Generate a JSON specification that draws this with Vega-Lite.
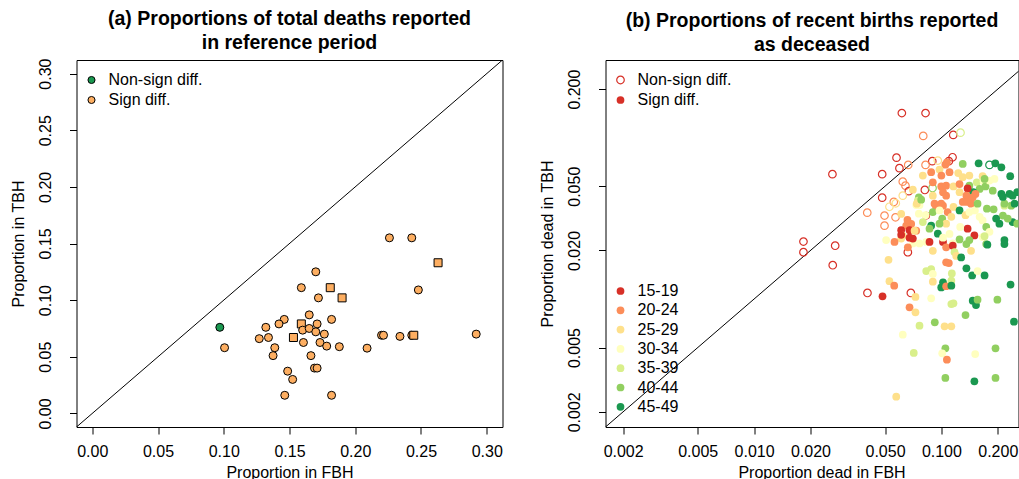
{
"$schema":"https://vega.github.io/schema/vega-lite/v6.json",
"padding":{"left":9.5,"top":8,"right":0,"bottom":0},
"bounds":"flush",
"spacing":103,
"background":"white",
"resolve":{"scale":{"color":"independent","shape":"independent"},"legend":{"color":"independent","shape":"independent"}},
"config":{
 "font":"Liberation Sans",
 "view":{"stroke":"black","strokeWidth":1},
 "axis":{"domain":false,"grid":false,"tickColor":"black","tickSize":7,"tickWidth":1,"labelFontSize":16,"labelColor":"black","titleFontSize":16,"titleFontWeight":"normal","titleColor":"black","labelFont":"Liberation Sans","titleFont":"Liberation Sans","labelPadding":9,"titlePadding":5,"labelFlush":false,"labelOverlap":false},
 "axisY":{"labelPadding":16,"titlePadding":11},
 "title":{"fontSize":19.5,"fontWeight":"bold","font":"Liberation Sans","color":"black","anchor":"middle","offset":5,"lineHeight":24},
 "legend":{"labelFont":"Liberation Sans","labelFontSize":16,"labelColor":"black","padding":0,"rowPadding":4,"labelOffset":9}
},
"hconcat":[
{
 "width":426,"height":367,
 "title":{"text":["(a) Proportions of total deaths reported","in reference period"]},
 "layer":[
  {"data":{"values":[{"fbh":-0.05,"tbh":-0.05,"fbh2":0.4,"tbh2":0.4}]},
   "mark":{"type":"rule","clip":true,"color":"black","strokeWidth":1},
   "encoding":{"x":{"field":"fbh","type":"quantitative"},"y":{"field":"tbh","type":"quantitative"},"x2":{"field":"fbh2"},"y2":{"field":"tbh2"}}},
  {"data":{"values":[
{"fbh":0.226,"tbh":0.155,"sig":"Sign diff.","type":"circle"},
{"fbh":0.243,"tbh":0.155,"sig":"Sign diff.","type":"circle"},
{"fbh":0.263,"tbh":0.133,"sig":"Sign diff.","type":"square"},
{"fbh":0.170,"tbh":0.125,"sig":"Sign diff.","type":"circle"},
{"fbh":0.159,"tbh":0.111,"sig":"Sign diff.","type":"circle"},
{"fbh":0.181,"tbh":0.111,"sig":"Sign diff.","type":"square"},
{"fbh":0.248,"tbh":0.109,"sig":"Sign diff.","type":"circle"},
{"fbh":0.172,"tbh":0.102,"sig":"Sign diff.","type":"circle"},
{"fbh":0.190,"tbh":0.102,"sig":"Sign diff.","type":"square"},
{"fbh":0.165,"tbh":0.087,"sig":"Sign diff.","type":"circle"},
{"fbh":0.146,"tbh":0.083,"sig":"Sign diff.","type":"circle"},
{"fbh":0.142,"tbh":0.079,"sig":"Sign diff.","type":"circle"},
{"fbh":0.182,"tbh":0.083,"sig":"Sign diff.","type":"circle"},
{"fbh":0.159,"tbh":0.079,"sig":"Sign diff.","type":"square"},
{"fbh":0.097,"tbh":0.076,"sig":"Non-sign diff.","type":"circle"},
{"fbh":0.132,"tbh":0.076,"sig":"Sign diff.","type":"circle"},
{"fbh":0.171,"tbh":0.079,"sig":"Sign diff.","type":"circle"},
{"fbh":0.160,"tbh":0.0735,"sig":"Sign diff.","type":"circle"},
{"fbh":0.165,"tbh":0.075,"sig":"Sign diff.","type":"circle"},
{"fbh":0.170,"tbh":0.072,"sig":"Sign diff.","type":"circle"},
{"fbh":0.1765,"tbh":0.070,"sig":"Sign diff.","type":"circle"},
{"fbh":0.153,"tbh":0.067,"sig":"Sign diff.","type":"square"},
{"fbh":0.127,"tbh":0.066,"sig":"Sign diff.","type":"circle"},
{"fbh":0.134,"tbh":0.067,"sig":"Sign diff.","type":"circle"},
{"fbh":0.220,"tbh":0.069,"sig":"Sign diff.","type":"circle"},
{"fbh":0.2215,"tbh":0.069,"sig":"Sign diff.","type":"circle"},
{"fbh":0.234,"tbh":0.068,"sig":"Sign diff.","type":"circle"},
{"fbh":0.243,"tbh":0.069,"sig":"Sign diff.","type":"circle"},
{"fbh":0.2445,"tbh":0.069,"sig":"Sign diff.","type":"square"},
{"fbh":0.292,"tbh":0.070,"sig":"Sign diff.","type":"circle"},
{"fbh":0.1006,"tbh":0.058,"sig":"Sign diff.","type":"circle"},
{"fbh":0.1606,"tbh":0.0626,"sig":"Sign diff.","type":"circle"},
{"fbh":0.1732,"tbh":0.0626,"sig":"Sign diff.","type":"circle"},
{"fbh":0.1783,"tbh":0.0594,"sig":"Sign diff.","type":"circle"},
{"fbh":0.1879,"tbh":0.0589,"sig":"Sign diff.","type":"circle"},
{"fbh":0.209,"tbh":0.0576,"sig":"Sign diff.","type":"circle"},
{"fbh":0.1388,"tbh":0.058,"sig":"Sign diff.","type":"circle"},
{"fbh":0.1375,"tbh":0.051,"sig":"Sign diff.","type":"circle"},
{"fbh":0.1663,"tbh":0.051,"sig":"Sign diff.","type":"circle"},
{"fbh":0.169,"tbh":0.040,"sig":"Sign diff.","type":"circle"},
{"fbh":0.171,"tbh":0.040,"sig":"Sign diff.","type":"circle"},
{"fbh":0.1486,"tbh":0.0373,"sig":"Sign diff.","type":"circle"},
{"fbh":0.1524,"tbh":0.030,"sig":"Sign diff.","type":"circle"},
{"fbh":0.1464,"tbh":0.016,"sig":"Sign diff.","type":"circle"},
{"fbh":0.182,"tbh":0.016,"sig":"Sign diff.","type":"circle"}
  ]},
   "mark":{"type":"point","filled":true,"stroke":"black","strokeWidth":1,"size":64,"opacity":1},
   "encoding":{
    "x":{"field":"fbh","type":"quantitative","title":"Proportion in FBH","scale":{"domain":[-0.012,0.312],"nice":false,"zero":false},"axis":{"values":[0,0.05,0.1,0.15,0.2,0.25,0.3],"format":".2f"}},
    "y":{"field":"tbh","type":"quantitative","title":"Proportion in TBH","scale":{"domain":[-0.012,0.312],"nice":false,"zero":false},"axis":{"values":[0,0.05,0.1,0.15,0.2,0.25,0.3],"format":".2f","labelAngle":-90}},
    "color":{"field":"sig","type":"nominal","scale":{"domain":["Non-sign diff.","Sign diff."],"range":["#1a9850","#fdae61"]},"legend":{"orient":"none","legendX":7,"legendY":12,"title":null,"symbolType":"circle","symbolSize":50,"symbolStrokeColor":"black","symbolStrokeWidth":1}},
    "shape":{"field":"type","type":"nominal","scale":{"domain":["circle","square"],"range":["circle","square"]},"legend":null}
   }}
 ]
},
{
 "width":413,"height":367,
 "title":{"text":["(b) Proportions of recent births reported","as deceased"]},
 "layer":[
  {"data":{"values":[{"fbh":0.0012,"tbh":0.0012,"fbh2":0.5,"tbh2":0.5}]},
   "mark":{"type":"rule","clip":true,"color":"black","strokeWidth":1},
   "encoding":{"x":{"field":"fbh","type":"quantitative"},"y":{"field":"tbh","type":"quantitative"},"x2":{"field":"fbh2"},"y2":{"field":"tbh2"}}},
  {"data":{"name":"b"},
   "mark":{"type":"point","filled":true,"size":60,"opacity":1,"strokeWidth":0,"clip":true},
   "encoding":{
    "x":{"field":"fbh","type":"quantitative","title":"Proportion dead in FBH","scale":{"type":"log","domain":[0.00161,0.258],"nice":false},"axis":{"values":[0.002,0.005,0.01,0.02,0.05,0.1,0.2],"format":".3f","titleX":216}},
    "y":{"field":"tbh","type":"quantitative","title":"Proportion dead in TBH","scale":{"type":"log","domain":[0.00161,0.303],"nice":false},"axis":{"values":[0.002,0.005,0.02,0.05,0.2],"format":".3f","labelAngle":-90}},
    "color":{"field":"age","type":"nominal","scale":{"domain":["15-19","20-24","25-29","30-34","35-39","40-44","45-49"],"range":["#d73027","#fc8d59","#fee08b","#ffffbf","#d9ef8b","#91cf60","#1a9850"]},"legend":{"orient":"none","legendX":7,"legendY":223,"rowPadding":3.3,"title":null,"symbolType":"circle","symbolSize":60,"symbolStrokeWidth":0}},
    "shape":{"field":"sig","type":"nominal","scale":{"domain":["Non-sign diff.","Sign diff."],"range":["M-1.13,0A1.13,1.13 0 1,0 1.13,0A1.13,1.13 0 1,0 -1.13,0ZM-0.82,0A0.82,0.82 0 1,1 0.82,0A0.82,0.82 0 1,1 -0.82,0Z","circle"]},"legend":{"orient":"none","legendX":7,"legendY":12,"title":null,"symbolSize":60,"symbolFillColor":"#d73027","symbolStrokeColor":"transparent","symbolStrokeWidth":0}}
   }}
 ]
}
],
"datasets":{"b":[
{"fbh":0.0615,"tbh":0.142,"age":"15-19","sig":"Non-sign diff."},
{"fbh":0.0823,"tbh":0.142,"age":"15-19","sig":"Non-sign diff."},
{"fbh":0.080,"tbh":0.1026,"age":"20-24","sig":"Non-sign diff."},
{"fbh":0.1157,"tbh":0.104,"age":"15-19","sig":"Non-sign diff."},
{"fbh":0.1265,"tbh":0.1074,"age":"35-39","sig":"Non-sign diff."},
{"fbh":0.0576,"tbh":0.0752,"age":"15-19","sig":"Non-sign diff."},
{"fbh":0.1147,"tbh":0.0756,"age":"15-19","sig":"Non-sign diff."},
{"fbh":0.1096,"tbh":0.0715,"age":"15-19","sig":"Non-sign diff."},
{"fbh":0.0894,"tbh":0.0715,"age":"15-19","sig":"Non-sign diff."},
{"fbh":0.0957,"tbh":0.0721,"age":"25-29","sig":"Non-sign diff."},
{"fbh":0.0597,"tbh":0.0647,"age":"15-19","sig":"Non-sign diff."},
{"fbh":0.0665,"tbh":0.0678,"age":"20-24","sig":"Non-sign diff."},
{"fbh":0.0823,"tbh":0.0678,"age":"20-24","sig":"Non-sign diff."},
{"fbh":0.1806,"tbh":0.0678,"age":"45-49","sig":"Non-sign diff."},
{"fbh":0.0262,"tbh":0.0594,"age":"15-19","sig":"Non-sign diff."},
{"fbh":0.0483,"tbh":0.0594,"age":"15-19","sig":"Non-sign diff."},
{"fbh":0.0622,"tbh":0.0534,"age":"20-24","sig":"Non-sign diff."},
{"fbh":0.0643,"tbh":0.0504,"age":"20-24","sig":"Non-sign diff."},
{"fbh":0.067,"tbh":0.0466,"age":"15-19","sig":"Non-sign diff."},
{"fbh":0.0816,"tbh":0.0474,"age":"15-19","sig":"Non-sign diff."},
{"fbh":0.0897,"tbh":0.0488,"age":"40-44","sig":"Non-sign diff."},
{"fbh":0.0622,"tbh":0.0437,"age":"25-29","sig":"Non-sign diff."},
{"fbh":0.0483,"tbh":0.0425,"age":"15-19","sig":"Non-sign diff."},
{"fbh":0.0557,"tbh":0.040,"age":"20-24","sig":"Non-sign diff."},
{"fbh":0.0528,"tbh":0.0373,"age":"25-29","sig":"Non-sign diff."},
{"fbh":0.0571,"tbh":0.0392,"age":"25-29","sig":"Non-sign diff."},
{"fbh":0.0402,"tbh":0.0343,"age":"20-24","sig":"Non-sign diff."},
{"fbh":0.0497,"tbh":0.0329,"age":"20-24","sig":"Non-sign diff."},
{"fbh":0.0569,"tbh":0.0321,"age":"20-24","sig":"Non-sign diff."},
{"fbh":0.0497,"tbh":0.0285,"age":"20-24","sig":"Non-sign diff."},
{"fbh":0.01835,"tbh":0.0227,"age":"15-19","sig":"Non-sign diff."},
{"fbh":0.0271,"tbh":0.0214,"age":"15-19","sig":"Non-sign diff."},
{"fbh":0.01835,"tbh":0.0195,"age":"15-19","sig":"Non-sign diff."},
{"fbh":0.0263,"tbh":0.0162,"age":"15-19","sig":"Non-sign diff."},
{"fbh":0.0403,"tbh":0.0109,"age":"15-19","sig":"Non-sign diff."},
{"fbh":0.0687,"tbh":0.0109,"age":"15-19","sig":"Non-sign diff."},
{"fbh":0.0662,"tbh":0.0195,"age":"15-19","sig":"Non-sign diff."},
{"fbh":0.130,"tbh":0.0687,"age":"40-44","sig":"Sign diff."},
{"fbh":0.158,"tbh":0.0694,"age":"45-49","sig":"Sign diff."},
{"fbh":0.194,"tbh":0.0694,"age":"45-49","sig":"Sign diff."},
{"fbh":0.209,"tbh":0.0655,"age":"45-49","sig":"Sign diff."},
{"fbh":0.105,"tbh":0.068,"age":"20-24","sig":"Sign diff."},
{"fbh":0.107,"tbh":0.0704,"age":"20-24","sig":"Sign diff."},
{"fbh":0.0977,"tbh":0.0634,"age":"25-29","sig":"Sign diff."},
{"fbh":0.0882,"tbh":0.0611,"age":"20-24","sig":"Sign diff."},
{"fbh":0.0796,"tbh":0.0582,"age":"25-29","sig":"Sign diff."},
{"fbh":0.100,"tbh":0.0582,"age":"20-24","sig":"Sign diff."},
{"fbh":0.1105,"tbh":0.0611,"age":"20-24","sig":"Sign diff."},
{"fbh":0.123,"tbh":0.0604,"age":"25-29","sig":"Sign diff."},
{"fbh":0.141,"tbh":0.0582,"age":"25-29","sig":"Sign diff."},
{"fbh":0.166,"tbh":0.0577,"age":"25-29","sig":"Sign diff."},
{"fbh":0.130,"tbh":0.0569,"age":"25-29","sig":"Sign diff."},
{"fbh":0.192,"tbh":0.0555,"age":"30-34","sig":"Sign diff."},
{"fbh":0.233,"tbh":0.0577,"age":"45-49","sig":"Sign diff."},
{"fbh":0.090,"tbh":0.0529,"age":"20-24","sig":"Sign diff."},
{"fbh":0.0704,"tbh":0.0476,"age":"25-29","sig":"Sign diff."},
{"fbh":0.0998,"tbh":0.0499,"age":"20-24","sig":"Sign diff."},
{"fbh":0.106,"tbh":0.0504,"age":"20-24","sig":"Sign diff."},
{"fbh":0.116,"tbh":0.0499,"age":"25-29","sig":"Sign diff."},
{"fbh":0.125,"tbh":0.0516,"age":"20-24","sig":"Sign diff."},
{"fbh":0.141,"tbh":0.0504,"age":"40-44","sig":"Sign diff."},
{"fbh":0.1545,"tbh":0.0529,"age":"35-39","sig":"Sign diff."},
{"fbh":0.168,"tbh":0.0537,"age":"30-34","sig":"Sign diff."},
{"fbh":0.172,"tbh":0.0499,"age":"40-44","sig":"Sign diff."},
{"fbh":0.160,"tbh":0.0481,"age":"40-44","sig":"Sign diff."},
{"fbh":0.188,"tbh":0.0469,"age":"40-44","sig":"Sign diff."},
{"fbh":0.209,"tbh":0.0448,"age":"45-49","sig":"Sign diff."},
{"fbh":0.231,"tbh":0.0448,"age":"45-49","sig":"Sign diff."},
{"fbh":0.254,"tbh":0.0459,"age":"45-49","sig":"Sign diff."},
{"fbh":0.102,"tbh":0.0459,"age":"20-24","sig":"Sign diff."},
{"fbh":0.106,"tbh":0.0437,"age":"20-24","sig":"Sign diff."},
{"fbh":0.125,"tbh":0.0459,"age":"25-29","sig":"Sign diff."},
{"fbh":0.138,"tbh":0.0437,"age":"25-29","sig":"Sign diff."},
{"fbh":0.148,"tbh":0.0459,"age":"45-49","sig":"Sign diff."},
{"fbh":0.0758,"tbh":0.0427,"age":"40-44","sig":"Sign diff."},
{"fbh":0.090,"tbh":0.0437,"age":"25-29","sig":"Sign diff."},
{"fbh":0.138,"tbh":0.0485,"age":"15-19","sig":"Sign diff."},
{"fbh":0.136,"tbh":0.0437,"age":"20-24","sig":"Sign diff."},
{"fbh":0.147,"tbh":0.0427,"age":"20-24","sig":"Sign diff."},
{"fbh":0.152,"tbh":0.0448,"age":"20-24","sig":"Sign diff."},
{"fbh":0.1806,"tbh":0.0542,"age":"30-34","sig":"Sign diff."},
{"fbh":0.170,"tbh":0.0555,"age":"40-44","sig":"Sign diff."},
{"fbh":0.240,"tbh":0.0437,"age":"45-49","sig":"Sign diff."},
{"fbh":0.236,"tbh":0.0379,"age":"40-44","sig":"Sign diff."},
{"fbh":0.217,"tbh":0.0379,"age":"35-39","sig":"Sign diff."},
{"fbh":0.213,"tbh":0.0329,"age":"40-44","sig":"Sign diff."},
{"fbh":0.240,"tbh":0.030,"age":"45-49","sig":"Sign diff."},
{"fbh":0.0748,"tbh":0.0407,"age":"35-39","sig":"Sign diff."},
{"fbh":0.0734,"tbh":0.0382,"age":"30-34","sig":"Sign diff."},
{"fbh":0.083,"tbh":0.0329,"age":"15-19","sig":"Sign diff."},
{"fbh":0.0882,"tbh":0.0285,"age":"45-49","sig":"Sign diff."},
{"fbh":0.0938,"tbh":0.037,"age":"20-24","sig":"Sign diff."},
{"fbh":0.102,"tbh":0.0379,"age":"20-24","sig":"Sign diff."},
{"fbh":0.061,"tbh":0.0337,"age":"25-29","sig":"Sign diff."},
{"fbh":0.0649,"tbh":0.0285,"age":"20-24","sig":"Sign diff."},
{"fbh":0.069,"tbh":0.0292,"age":"20-24","sig":"Sign diff."},
{"fbh":0.0734,"tbh":0.0265,"age":"20-24","sig":"Sign diff."},
{"fbh":0.0764,"tbh":0.0382,"age":"30-34","sig":"Sign diff."},
{"fbh":0.0739,"tbh":0.039,"age":"25-29","sig":"Sign diff."},
{"fbh":0.0758,"tbh":0.0338,"age":"30-34","sig":"Sign diff."},
{"fbh":0.078,"tbh":0.0413,"age":"40-44","sig":"Sign diff."},
{"fbh":0.0823,"tbh":0.0331,"age":"30-34","sig":"Sign diff."},
{"fbh":0.0919,"tbh":0.039,"age":"20-24","sig":"Sign diff."},
{"fbh":0.0998,"tbh":0.039,"age":"20-24","sig":"Sign diff."},
{"fbh":0.090,"tbh":0.0346,"age":"40-44","sig":"Sign diff."},
{"fbh":0.0977,"tbh":0.0354,"age":"30-34","sig":"Sign diff."},
{"fbh":0.101,"tbh":0.0315,"age":"40-44","sig":"Sign diff."},
{"fbh":0.108,"tbh":0.0346,"age":"20-24","sig":"Sign diff."},
{"fbh":0.106,"tbh":0.0293,"age":"25-29","sig":"Sign diff."},
{"fbh":0.113,"tbh":0.0323,"age":"25-29","sig":"Sign diff."},
{"fbh":0.116,"tbh":0.0372,"age":"25-29","sig":"Sign diff."},
{"fbh":0.125,"tbh":0.0354,"age":"45-49","sig":"Sign diff."},
{"fbh":0.130,"tbh":0.040,"age":"20-24","sig":"Sign diff."},
{"fbh":0.137,"tbh":0.040,"age":"20-24","sig":"Sign diff."},
{"fbh":0.144,"tbh":0.039,"age":"20-24","sig":"Sign diff."},
{"fbh":0.1345,"tbh":0.0331,"age":"25-29","sig":"Sign diff."},
{"fbh":0.141,"tbh":0.0346,"age":"30-34","sig":"Sign diff."},
{"fbh":0.151,"tbh":0.0354,"age":"30-34","sig":"Sign diff."},
{"fbh":0.160,"tbh":0.0323,"age":"30-34","sig":"Sign diff."},
{"fbh":0.166,"tbh":0.0307,"age":"30-34","sig":"Sign diff."},
{"fbh":0.138,"tbh":0.0273,"age":"15-19","sig":"Sign diff."},
{"fbh":0.126,"tbh":0.028,"age":"30-34","sig":"Sign diff."},
{"fbh":0.150,"tbh":0.0248,"age":"15-19","sig":"Sign diff."},
{"fbh":0.156,"tbh":0.039,"age":"40-44","sig":"Sign diff."},
{"fbh":0.175,"tbh":0.0363,"age":"40-44","sig":"Sign diff."},
{"fbh":0.190,"tbh":0.036,"age":"40-44","sig":"Sign diff."},
{"fbh":0.217,"tbh":0.039,"age":"40-44","sig":"Sign diff."},
{"fbh":0.213,"tbh":0.0429,"age":"45-49","sig":"Sign diff."},
{"fbh":0.246,"tbh":0.039,"age":"45-49","sig":"Sign diff."},
{"fbh":0.196,"tbh":0.0315,"age":"45-49","sig":"Sign diff."},
{"fbh":0.204,"tbh":0.0293,"age":"45-49","sig":"Sign diff."},
{"fbh":0.226,"tbh":0.0315,"age":"40-44","sig":"Sign diff."},
{"fbh":0.254,"tbh":0.0293,"age":"40-44","sig":"Sign diff."},
{"fbh":0.1735,"tbh":0.028,"age":"40-44","sig":"Sign diff."},
{"fbh":0.1806,"tbh":0.0261,"age":"30-34","sig":"Sign diff."},
{"fbh":0.217,"tbh":0.0232,"age":"45-49","sig":"Sign diff."},
{"fbh":0.166,"tbh":0.0242,"age":"30-34","sig":"Sign diff."},
{"fbh":0.125,"tbh":0.0234,"age":"40-44","sig":"Sign diff."},
{"fbh":0.141,"tbh":0.0232,"age":"40-44","sig":"Sign diff."},
{"fbh":0.115,"tbh":0.0221,"age":"30-34","sig":"Sign diff."},
{"fbh":0.102,"tbh":0.0226,"age":"15-19","sig":"Sign diff."},
{"fbh":0.0957,"tbh":0.0254,"age":"45-49","sig":"Sign diff."},
{"fbh":0.0864,"tbh":0.0273,"age":"40-44","sig":"Sign diff."},
{"fbh":0.0977,"tbh":0.0293,"age":"40-44","sig":"Sign diff."},
{"fbh":0.083,"tbh":0.0226,"age":"30-34","sig":"Sign diff."},
{"fbh":0.0864,"tbh":0.0226,"age":"15-19","sig":"Sign diff."},
{"fbh":0.0764,"tbh":0.0221,"age":"30-34","sig":"Sign diff."},
{"fbh":0.0704,"tbh":0.0221,"age":"30-34","sig":"Sign diff."},
{"fbh":0.0659,"tbh":0.0309,"age":"20-24","sig":"Sign diff."},
{"fbh":0.061,"tbh":0.0267,"age":"15-19","sig":"Sign diff."},
{"fbh":0.0676,"tbh":0.0267,"age":"15-19","sig":"Sign diff."},
{"fbh":0.0704,"tbh":0.0237,"age":"15-19","sig":"Sign diff."},
{"fbh":0.061,"tbh":0.0237,"age":"25-29","sig":"Sign diff."},
{"fbh":0.0562,"tbh":0.0226,"age":"20-24","sig":"Sign diff."},
{"fbh":0.0507,"tbh":0.0232,"age":"30-34","sig":"Sign diff."},
{"fbh":0.0796,"tbh":0.030,"age":"35-39","sig":"Sign diff."},
{"fbh":0.0622,"tbh":0.0247,"age":"25-29","sig":"Sign diff."},
{"fbh":0.061,"tbh":0.025,"age":"15-19","sig":"Sign diff."},
{"fbh":0.0676,"tbh":0.024,"age":"15-19","sig":"Sign diff."},
{"fbh":0.0719,"tbh":0.0265,"age":"25-29","sig":"Sign diff."},
{"fbh":0.090,"tbh":0.0199,"age":"25-29","sig":"Sign diff."},
{"fbh":0.0662,"tbh":0.0209,"age":"20-24","sig":"Sign diff."},
{"fbh":0.0522,"tbh":0.0175,"age":"25-29","sig":"Sign diff."},
{"fbh":0.102,"tbh":0.024,"age":"30-34","sig":"Sign diff."},
{"fbh":0.106,"tbh":0.0209,"age":"20-24","sig":"Sign diff."},
{"fbh":0.115,"tbh":0.0214,"age":"15-19","sig":"Sign diff."},
{"fbh":0.1105,"tbh":0.0253,"age":"30-34","sig":"Sign diff."},
{"fbh":0.1175,"tbh":0.0195,"age":"35-39","sig":"Sign diff."},
{"fbh":0.120,"tbh":0.0185,"age":"25-29","sig":"Sign diff."},
{"fbh":0.1275,"tbh":0.0181,"age":"45-49","sig":"Sign diff."},
{"fbh":0.136,"tbh":0.0219,"age":"40-44","sig":"Sign diff."},
{"fbh":0.144,"tbh":0.0199,"age":"25-29","sig":"Sign diff."},
{"fbh":0.170,"tbh":0.0245,"age":"35-39","sig":"Sign diff."},
{"fbh":0.1735,"tbh":0.0219,"age":"40-44","sig":"Sign diff."},
{"fbh":0.176,"tbh":0.0217,"age":"45-49","sig":"Sign diff."},
{"fbh":0.217,"tbh":0.0219,"age":"45-49","sig":"Sign diff."},
{"fbh":0.106,"tbh":0.0169,"age":"20-24","sig":"Sign diff."},
{"fbh":0.1096,"tbh":0.0167,"age":"20-24","sig":"Sign diff."},
{"fbh":0.083,"tbh":0.0149,"age":"35-39","sig":"Sign diff."},
{"fbh":0.0882,"tbh":0.0153,"age":"35-39","sig":"Sign diff."},
{"fbh":0.090,"tbh":0.0143,"age":"30-34","sig":"Sign diff."},
{"fbh":0.090,"tbh":0.0128,"age":"25-29","sig":"Sign diff."},
{"fbh":0.1137,"tbh":0.0144,"age":"35-39","sig":"Sign diff."},
{"fbh":0.136,"tbh":0.0155,"age":"45-49","sig":"Sign diff."},
{"fbh":0.146,"tbh":0.014,"age":"45-49","sig":"Sign diff."},
{"fbh":0.156,"tbh":0.0149,"age":"30-34","sig":"Sign diff."},
{"fbh":0.170,"tbh":0.014,"age":"45-49","sig":"Sign diff."},
{"fbh":0.102,"tbh":0.0127,"age":"45-49","sig":"Sign diff."},
{"fbh":0.0998,"tbh":0.0118,"age":"45-49","sig":"Sign diff."},
{"fbh":0.106,"tbh":0.012,"age":"20-24","sig":"Sign diff."},
{"fbh":0.113,"tbh":0.013,"age":"35-39","sig":"Sign diff."},
{"fbh":0.113,"tbh":0.0121,"age":"45-49","sig":"Sign diff."},
{"fbh":0.234,"tbh":0.0123,"age":"45-49","sig":"Sign diff."},
{"fbh":0.0528,"tbh":0.0129,"age":"25-29","sig":"Sign diff."},
{"fbh":0.056,"tbh":0.0121,"age":"20-24","sig":"Sign diff."},
{"fbh":0.0727,"tbh":0.0103,"age":"25-29","sig":"Sign diff."},
{"fbh":0.0882,"tbh":0.0101,"age":"30-34","sig":"Sign diff."},
{"fbh":0.0676,"tbh":0.00888,"age":"20-24","sig":"Sign diff."},
{"fbh":0.0727,"tbh":0.00827,"age":"25-29","sig":"Sign diff."},
{"fbh":0.113,"tbh":0.00931,"age":"35-39","sig":"Sign diff."},
{"fbh":0.116,"tbh":0.0094,"age":"35-39","sig":"Sign diff."},
{"fbh":0.147,"tbh":0.00976,"age":"45-49","sig":"Sign diff."},
{"fbh":0.153,"tbh":0.00918,"age":"45-49","sig":"Sign diff."},
{"fbh":0.156,"tbh":0.0099,"age":"40-44","sig":"Sign diff."},
{"fbh":0.199,"tbh":0.0099,"age":"40-44","sig":"Sign diff."},
{"fbh":0.1345,"tbh":0.00796,"age":"40-44","sig":"Sign diff."},
{"fbh":0.244,"tbh":0.00724,"age":"45-49","sig":"Sign diff."},
{"fbh":0.0922,"tbh":0.00717,"age":"40-44","sig":"Sign diff."},
{"fbh":0.0764,"tbh":0.00683,"age":"35-39","sig":"Sign diff."},
{"fbh":0.104,"tbh":0.00677,"age":"25-29","sig":"Sign diff."},
{"fbh":0.113,"tbh":0.00677,"age":"25-29","sig":"Sign diff."},
{"fbh":0.0622,"tbh":0.00601,"age":"30-34","sig":"Sign diff."},
{"fbh":0.105,"tbh":0.00495,"age":"40-44","sig":"Sign diff."},
{"fbh":0.101,"tbh":0.00461,"age":"30-34","sig":"Sign diff."},
{"fbh":0.107,"tbh":0.00421,"age":"20-24","sig":"Sign diff."},
{"fbh":0.0712,"tbh":0.00463,"age":"35-39","sig":"Sign diff."},
{"fbh":0.1515,"tbh":0.00456,"age":"30-34","sig":"Sign diff."},
{"fbh":0.1945,"tbh":0.00495,"age":"40-44","sig":"Sign diff."},
{"fbh":0.105,"tbh":0.00324,"age":"40-44","sig":"Sign diff."},
{"fbh":0.150,"tbh":0.00309,"age":"45-49","sig":"Sign diff."},
{"fbh":0.1945,"tbh":0.00324,"age":"40-44","sig":"Sign diff."},
{"fbh":0.0574,"tbh":0.00248,"age":"25-29","sig":"Sign diff."},
{"fbh":0.0485,"tbh":0.0104,"age":"15-19","sig":"Sign diff."}
]}
}
